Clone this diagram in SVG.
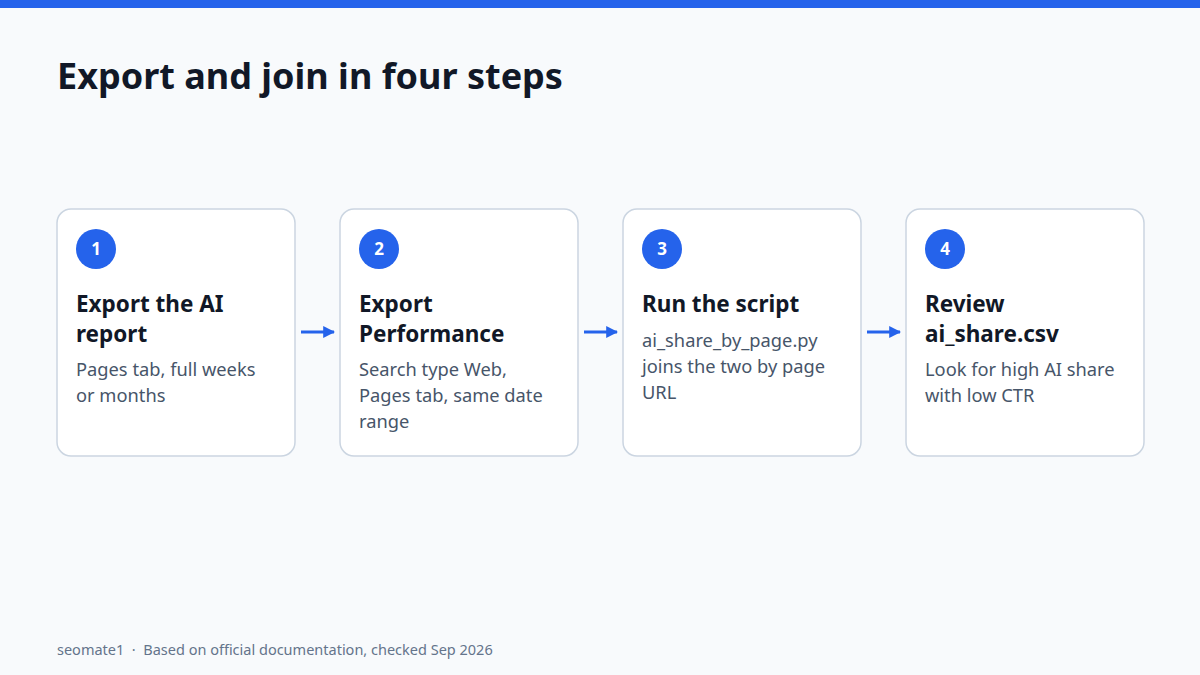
<svg xmlns="http://www.w3.org/2000/svg" width="1200" height="675" viewBox="0 0 1200 675">
<style>
.card{fill:#ffffff;stroke:#cbd5e1;stroke-width:1.5}
.badge{fill:#2563eb}
.num{font-family:"Noto Sans","Open Sans",sans-serif;font-weight:700;font-size:17px;fill:#ffffff;text-anchor:middle}
.ttl{font-family:"Noto Sans","Open Sans",sans-serif;font-weight:700;font-size:22.5px;fill:#111827}
.desc{font-family:"Noto Sans","Open Sans",sans-serif;font-size:18.3px;fill:#475569}
.conn{stroke:#2563eb;stroke-width:3;fill:none}
</style>
<defs>
<marker id="ah" viewBox="0 0 10 10" refX="9" refY="5" markerWidth="4" markerHeight="4" orient="auto" markerUnits="strokeWidth"><path d="M0,0 L10,5 L0,10 z" fill="#2563eb"/></marker>
</defs>
<rect width="1200" height="675" fill="#f8fafc"/>
<rect width="1200" height="8" fill="#2563eb"/>
<text x="57" y="89" font-family="Noto Sans,Open Sans,sans-serif" font-weight="700" font-size="36" fill="#111827">Export and join in four steps</text>
<g id="connectors">
<line class="conn" x1="301" y1="332" x2="334" y2="332" marker-end="url(#ah)"/>
<line class="conn" x1="584" y1="332" x2="617" y2="332" marker-end="url(#ah)"/>
<line class="conn" x1="867" y1="332" x2="900" y2="332" marker-end="url(#ah)"/>
</g>
<g id="step1">
<rect class="card" x="57" y="209" width="238" height="247" rx="14"/>
<circle class="badge" cx="96" cy="249" r="20"/>
<text class="num" x="96" y="255">1</text>
<text class="ttl" x="76" y="312">Export the AI</text>
<text class="ttl" x="76" y="342">report</text>
<text class="desc" x="76" y="376">Pages tab, full weeks</text>
<text class="desc" x="76" y="402">or months</text>
</g>
<g id="step2">
<rect class="card" x="340" y="209" width="238" height="247" rx="14"/>
<circle class="badge" cx="379" cy="249" r="20"/>
<text class="num" x="379" y="255">2</text>
<text class="ttl" x="359" y="312">Export</text>
<text class="ttl" x="359" y="342">Performance</text>
<text class="desc" x="359" y="376">Search type Web,</text>
<text class="desc" x="359" y="402">Pages tab, same date</text>
<text class="desc" x="359" y="428">range</text>
</g>
<g id="step3">
<rect class="card" x="623" y="209" width="238" height="247" rx="14"/>
<circle class="badge" cx="662" cy="249" r="20"/>
<text class="num" x="662" y="255">3</text>
<text class="ttl" x="642" y="312">Run the script</text>
<text class="desc" x="642" y="347">ai_share_by_page.py</text>
<text class="desc" x="642" y="373">joins the two by page</text>
<text class="desc" x="642" y="399">URL</text>
</g>
<g id="step4">
<rect class="card" x="906" y="209" width="238" height="247" rx="14"/>
<circle class="badge" cx="945" cy="249" r="20"/>
<text class="num" x="945" y="255">4</text>
<text class="ttl" x="925" y="312">Review</text>
<text class="ttl" x="925" y="342">ai_share.csv</text>
<text class="desc" x="925" y="376">Look for high AI share</text>
<text class="desc" x="925" y="402">with low CTR</text>
</g>
<text x="57" y="655" font-family="Noto Sans,Open Sans,sans-serif" font-size="14.5" fill="#64748b" xml:space="preserve">seomate1  ·  Based on official documentation, checked Sep 2026</text>
</svg>
